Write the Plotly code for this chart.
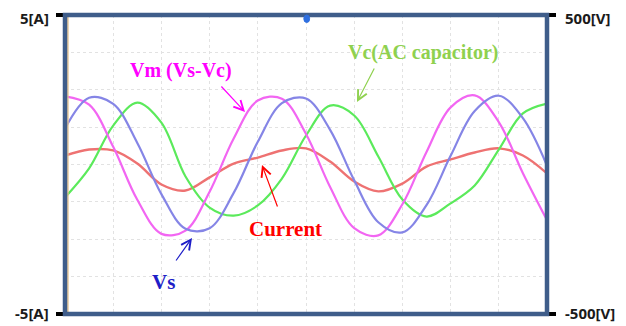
import plotly.graph_objects as go

# time axis (ms), 5 ms per division, 10 divisions
t_ms = [0, 2.5, 5, 7.5, 10, 12.5, 15, 17.5, 20, 22.5, 25,
        27.5, 30, 32.5, 35, 37.5, 40, 42.5, 45, 47.5, 50]

# Vm (Vs-Vc) [V]
vm = [228, 200, 59, -118, -232, -221, -91, 87, 214, 220, 102,
      -75, -213, -237, -133, 42, 191, 231, 142, -29, -186]
# Vs [V]
vs = [120, 223, 203, 72, -99, -215, -213, -95, 76, 205, 221,
      116, -53, -193, -227, -136, 29, 179, 230, 155, -4]
# Vc (AC capacitor) [V]
vc = [-110, -13, 130, 207, 140, -40, -144, -171, -137, -47, 97,
      197, 164, 27, -117, -174, -130, -70, 50, 171, 204]
# Current [A]
cur = [0.30, 0.50, 0.47, 0.03, -0.67, -0.87, -0.43, 0.03, 0.23, 0.47, 0.54,
       0.10, -0.57, -0.90, -0.64, -0.07, 0.17, 0.40, 0.54, 0.30, -0.30]

left_ticks = [-5, 5]
left_labels = ["-5[A]", "5[A]"]
right_ticks = [-500, 500]
right_labels = ["-500[V]", "500[V]"]

fig = go.Figure()
fig.add_trace(go.Scatter(x=t_ms, y=vc, yaxis="y2", mode="lines", line_shape="spline",
                         line=dict(color="#5BEA5B", width=2.2), name="Vc"))
fig.add_trace(go.Scatter(x=t_ms, y=vm, yaxis="y2", mode="lines", line_shape="spline",
                         line=dict(color="#F266F2", width=2.2), name="Vm"))
fig.add_trace(go.Scatter(x=t_ms, y=vs, yaxis="y2", mode="lines", line_shape="spline",
                         line=dict(color="#8585E6", width=2.2), name="Vs"))
fig.add_trace(go.Scatter(x=t_ms, y=cur, yaxis="y", mode="lines", line_shape="spline",
                         line=dict(color="#EE7272", width=2.4), name="Current"))

gcol = "#e2e2e2"
grid = dict(showgrid=True, gridcolor=gcol, griddash="dot", gridwidth=1)
labelfont = dict(family="Noto Sans", size=15, color="#1a1a1a", weight="bold")

# page body has an 8px margin, so the figure is sized/offset to fill the 626x326 view
fig.update_layout(
    width=618, height=318,
    margin=dict(l=57, r=79, t=7, b=12, autoexpand=False),
    paper_bgcolor="white", plot_bgcolor="white",
    showlegend=False,
    xaxis=dict(range=[0, 50], dtick=5, tick0=0, showticklabels=False, ticks="",
               zeroline=False, showline=False, automargin=False, **grid),
    yaxis=dict(range=[-5, 5], tickvals=left_ticks, showticklabels=False,
               ticks="outside", ticklen=8, tickwidth=4, tickcolor="black",
               automargin=False, showgrid=False, zeroline=False, showline=False,
               minor=dict(dtick=1.25, tick0=-5, ticks="", showgrid=True,
                          gridcolor=gcol, griddash="dot", gridwidth=1)),
    yaxis2=dict(range=[-500, 500], overlaying="y", side="right",
                tickvals=right_ticks, showticklabels=False,
                ticks="outside", ticklen=8, tickwidth=4, tickcolor="black",
                automargin=False, showgrid=False, zeroline=False, showline=False),
)

frame_col = "#3F5D8A"
fig.add_shape(type="line", xref="paper", yref="paper", x0=0.006, x1=0.006, y0=0, y1=1,
              line=dict(color="#E2C08E", width=1.5), layer="above")
fig.add_shape(type="rect", xref="paper", yref="paper", x0=0, x1=1, y0=0, y1=1,
              line=dict(color=frame_col, width=4.5), layer="above")
fig.add_shape(type="circle", xref="paper", yref="paper",
              x0=0.4955, x1=0.5075, y0=0.975, y1=1.0,
              line=dict(color="#2E6FE0", width=1), fillcolor="#2E6FE0", layer="above")

def px(x):
    return (x - 65) / 482.0

def py(y):
    return (314 - y) / 299.0

# axis end labels (placed as text next to the black end ticks)
fig.add_annotation(text=left_labels[1], xref="paper", yref="paper", x=px(51), y=py(18),
                   xanchor="right", yanchor="middle", showarrow=False, font=labelfont)
fig.add_annotation(text=left_labels[0], xref="paper", yref="paper", x=px(51), y=py(313),
                   xanchor="right", yanchor="middle", showarrow=False, font=labelfont)
fig.add_annotation(text=right_labels[1], xref="paper", yref="paper", x=px(563), y=py(18),
                   xanchor="left", yanchor="middle", showarrow=False, font=labelfont)
fig.add_annotation(text=right_labels[0], xref="paper", yref="paper", x=px(563), y=py(313),
                   xanchor="left", yanchor="middle", showarrow=False, font=labelfont)

serif = "Liberation Serif, Times New Roman, serif"
texts = [
    ("Vm (Vs-Vc)", 181, 70, "#FF00FF", 20),
    ("Vc(AC capacitor)", 423, 52, "#8FD14F", 20),
    ("Current", 285, 229, "#FF0000", 21),
    ("Vs", 163, 282, "#1E1EC8", 21),
]
for txt, x, y, col, sz in texts:
    fig.add_annotation(text=txt, xref="paper", yref="paper", x=px(x), y=py(y),
                       xanchor="center", yanchor="middle", showarrow=False,
                       font=dict(family=serif, size=sz, color=col, weight="bold"))

arrows = [
    ((220, 85), (245, 112), "#FF00FF"),
    ((375, 67), (357, 102), "#8FD14F"),
    ((278, 208), (262, 165), "#FF0000"),
    ((175, 262), (192, 238), "#1E1EC8"),
]
for (tx, ty), (hx, hy), col in arrows:
    fig.add_annotation(text="", xref="paper", yref="paper", x=px(hx), y=py(hy),
                       ax=tx - hx, ay=ty - hy, axref="pixel", ayref="pixel",
                       showarrow=True, arrowhead=5, arrowsize=1.6, arrowwidth=1.2,
                       arrowcolor=col)

fig.write_html("out.html")
